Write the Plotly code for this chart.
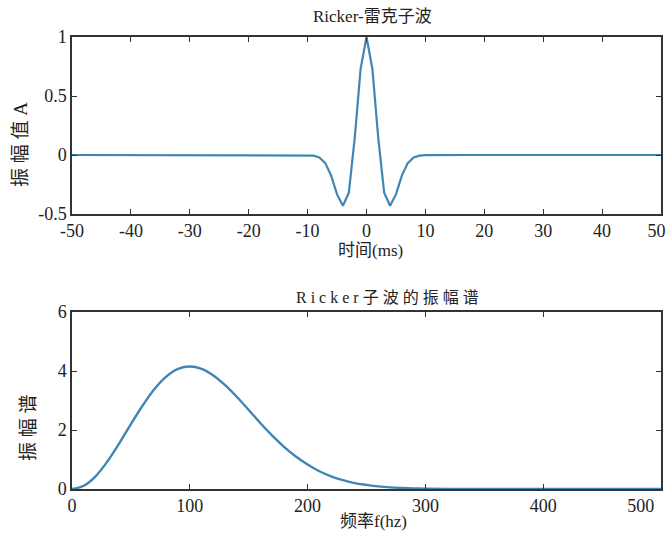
import plotly.graph_objects as go
from plotly.subplots import make_subplots

# ---- data ----
time_ms = list(range(-50, 51))
wavelet_core = [-0.001, -0.005, -0.021, -0.069, -0.175, -0.334, -0.43, -0.32, 0.142, 0.73,
                1.0,
                0.73, 0.142, -0.32, -0.43, -0.334, -0.175, -0.069, -0.021, -0.005, -0.001]
amplitude = [0.0] * 40 + wavelet_core + [0.0] * 40

freq_hz = [0, 10, 20, 30, 40, 50, 60, 70, 80, 90, 100, 110, 120, 130, 140, 150, 160, 170,
           180, 190, 200, 210, 220, 230, 240, 250, 260, 270, 280, 290, 300, 320, 350, 400,
           450, 500]
spectrum = [0.0, 0.11, 0.43, 0.93, 1.54, 2.2, 2.83, 3.39, 3.81, 4.07, 4.15, 4.07, 3.85,
            3.52, 3.12, 2.68, 2.23, 1.81, 1.43, 1.1, 0.83, 0.6, 0.43, 0.3, 0.2, 0.14, 0.09,
            0.056, 0.035, 0.021, 0.012, 0.004, 0.001, 0.0, 0.0, 0.0]

x1_ticks = [-50, -40, -30, -20, -10, 0, 10, 20, 30, 40, 50]
x1_labels = ["-50", "-40", "-30", "-20", "-10", "0", "10", "20", "30", "40",
             "50\u00a0\u00a0"]
y1_ticks = [-0.5, 0, 0.5, 1]
y1_labels = ["-0.5", "0", "0.5", "1"]
x2_ticks = [0, 100, 200, 300, 400, 500]
x2_labels = ["0", "100", "200", "300", "400", "500" + "\u00a0" * 9]
y2_ticks = [0, 2, 4, 6]

# ---- figure ----
W, H = 667, 533
L, R, T, B = 72, 6, 37, 44
plot_h = H - T - B
plot_w = W - L - R

def py(p):
    return (H - B - p) / plot_h

def px(p):
    return (p - L) / plot_w

fig = make_subplots(rows=2, cols=1)
line_col = "#3f86b5"
fig.add_trace(go.Scatter(x=time_ms, y=amplitude, mode="lines",
                         line=dict(color=line_col, width=2.2)), row=1, col=1)
fig.add_trace(go.Scatter(x=freq_hz, y=spectrum, mode="lines",
                         line=dict(color=line_col, width=2.4, shape="spline")), row=2, col=1)

serif = "Liberation Serif, Noto Sans CJK SC, serif"
axis_common = dict(showline=True, mirror="ticks", linecolor="#333333", linewidth=1.5,
                   ticks="inside", ticklen=5, tickcolor="#333333", showgrid=False,
                   zeroline=False, ticklabeloverflow="allow", automargin=False,
                   tickfont=dict(family=serif, size=18, color="#222222"))

fig.update_layout(
    width=W, height=H, margin=dict(l=L, r=R, t=T, b=B),
    paper_bgcolor="white", plot_bgcolor="white", showlegend=False,
    xaxis=dict(domain=[0, 1], range=[-50, 50], tickvals=x1_ticks, ticktext=x1_labels,
               **axis_common),
    yaxis=dict(domain=[py(214), 1], range=[-0.5, 1], tickvals=y1_ticks,
               ticktext=y1_labels, **axis_common),
    xaxis2=dict(domain=[0, 1], range=[0, 500], tickvals=x2_ticks, ticktext=x2_labels,
                **axis_common),
    yaxis2=dict(domain=[0, py(312)], range=[0, 6], tickvals=y2_ticks, **axis_common),
)

def note(text, x, y, size, angle=0, family=serif):
    fig.add_annotation(text=text, xref="paper", yref="paper", x=px(x), y=py(y),
                       showarrow=False, textangle=angle, xanchor="center", yanchor="middle",
                       font=dict(family=family, size=size, color="#222222"))

note("Ricker-雷克子波", 372, 17, 17)
note("时间(ms)", 370, 251, 17)
note("振 幅 值 A", 20, 145, 19, angle=-90)
note("R i c k e r 子 波 的 振 幅 谱", 387, 297, 16)
note("频率f(hz)", 373, 521, 17)
note("振 幅 谱", 28, 428, 19, angle=-90)

fig.write_html("out.html")
